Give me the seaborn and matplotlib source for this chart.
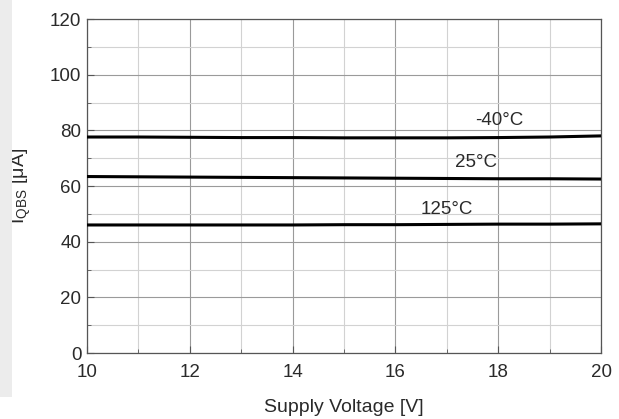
import numpy as np
import pandas as pd
import matplotlib
matplotlib.use("Agg")
import matplotlib.pyplot as plt
import seaborn as sns
from matplotlib.ticker import MultipleLocator
from matplotlib.patches import Rectangle

voltage = [10, 11, 12, 13, 14, 15, 16, 17, 18, 19, 20]
iq_m40 = [77.6, 77.6, 77.5, 77.4, 77.4, 77.3, 77.3, 77.3, 77.4, 77.6, 78.0]
iq_25 = [63.4, 63.3, 63.2, 63.1, 63.0, 62.9, 62.8, 62.7, 62.6, 62.6, 62.5]
iq_125 = [46.0, 46.0, 46.0, 46.0, 46.0, 46.1, 46.1, 46.2, 46.3, 46.3, 46.4]
labels = ["-40°C", "25°C", "125°C"]
label_x = [18.03, 17.57, 17.0]
label_y = [83.4, 68.3, 51.7]

rows = []
for name, vals in zip(labels, [iq_m40, iq_25, iq_125]):
    for v, i in zip(voltage, vals):
        rows.append({"V": v, "I": i, "T": name})
df = pd.DataFrame(rows)

sns.set_style("white")
plt.rcParams['font.family'] = ['Liberation Sans', 'DejaVu Sans']

fig = plt.figure(figsize=(6.19, 4.19), dpi=100)
fig.patches.append(Rectangle((0, 0.052), 0.019, 0.948, transform=fig.transFigure,
                             facecolor="#ececec", edgecolor="none", zorder=0))
ax = fig.add_axes([87/619, 1-353/419, (601-87)/619, (353-19)/419])

sns.lineplot(data=df, x="V", y="I", hue="T", palette=["black"]*3, linewidth=2.2,
             legend=False, ax=ax, zorder=5)

ax.set_xlim(10, 20)
ax.set_ylim(0, 120)
ax.xaxis.set_major_locator(MultipleLocator(2))
ax.xaxis.set_minor_locator(MultipleLocator(1))
ax.yaxis.set_major_locator(MultipleLocator(20))
ax.yaxis.set_minor_locator(MultipleLocator(10))
ax.grid(which="major", color="#9a9a9a", linewidth=0.8)
ax.grid(which="minor", color="#d2d2d2", linewidth=0.8)
ax.set_axisbelow(True)
ax.tick_params(which="both", direction="in", colors="#555555", labelcolor="#2a2a2a",
               labelsize=13.5, bottom=True, left=True)
ax.tick_params(which="major", length=5)
ax.tick_params(which="minor", length=3)
ax.tick_params(axis="x", which="major", pad=8)
ax.tick_params(axis="y", which="major", pad=4)
for s in ax.spines.values():
    s.set_color("#555555")
    s.set_linewidth(0.9)

for t, x, y in zip(labels, label_x, label_y):
    ax.text(x, y, t, ha="center", va="center", fontsize=13.5, color="#2a2a2a", zorder=6)

ax.set_xlabel("Supply Voltage [V]", fontsize=14, color="#2a2a2a", labelpad=13)
ax.set_ylabel(r"I$_{\mathregular{QBS}}$ [$\mathregular{\mu}$A]", fontsize=14, color="#2a2a2a", labelpad=12)

fig.savefig("out.png", dpi=100)
